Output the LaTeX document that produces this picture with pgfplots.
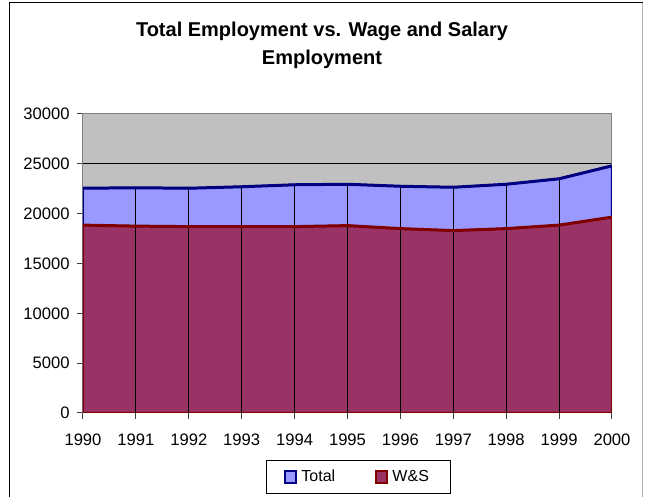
\documentclass[border=0pt]{standalone}
\usepackage{fontspec}
\setmainfont{Liberation Sans}
\usepackage{pgfplots}
\pgfplotsset{compat=1.18}
\usepackage{pgfplotstable}

\definecolor{plotgray}{HTML}{C0C0C0}
\definecolor{totfill}{HTML}{9999FF}
\definecolor{totline}{HTML}{000080}
\definecolor{wsfill}{HTML}{993366}
\definecolor{wsline}{HTML}{800000}

% employment by year
\pgfplotstableread{
year total ws
1990 22550 18850
1991 22600 18750
1992 22550 18700
1993 22700 18700
1994 22900 18700
1995 22950 18800
1996 22750 18500
1997 22650 18300
1998 22950 18500
1999 23500 18850
2000 24800 19650
}\emp

\begin{document}
\begin{tikzpicture}
\begin{axis}[
    scale only axis, width=264.5pt, height=149.5pt,
    xmin=1990, xmax=2000, ymin=0, ymax=30000,
    xtick={1990,1991,...,2000}, ytick={0,5000,...,30000},
    xtick pos=bottom, ytick pos=left,
    tick align=outside, major tick length=3pt,
    tick style={black!75, line width=0.5pt},
    axis line style={draw=black!50, line width=0.5pt},
    axis background/.style={fill=plotgray},
    ymajorgrids, grid style={black, line width=0.5pt},
    scaled ticks=false,
    /pgf/number format/1000 sep={},
    /pgf/number format/assume math mode=true,
    tick label style={font=\fontsize{8.3}{10}\selectfont},
    yticklabel style={inner sep=0pt, anchor=east, xshift=-3.5pt},
    xticklabel style={inner sep=0pt, anchor=north, yshift=-7.5pt},
    legend style={at={(0.521,-0.214)}, anchor=center, legend columns=2,
        draw=black, line width=0.5pt, font=\fontsize{8}{10}\selectfont,
        inner xsep=9pt, inner ysep=2.5pt,
        /tikz/every even column/.append style={column sep=18pt}},
]
\addplot[fill=totfill, draw=totline, line width=1pt,
    legend image code/.code={\draw[fill=totfill, draw=totline, line width=1pt] (0pt,-2.8pt) rectangle (5.6pt,2.8pt);}]
    table[x=year, y=total]{\emp} \closedcycle;
\addlegendentry{Total}
\addplot[fill=wsfill, draw=wsline, line width=1pt,
    legend image code/.code={\draw[fill=wsfill, draw=wsline, line width=1pt] (0pt,-2.8pt) rectangle (5.6pt,2.8pt);}]
    table[x=year, y=ws]{\emp} \closedcycle;
\addlegendentry{W\&S}
\addplot[ycomb, black, line width=0.5pt, restrict x to domain=1991:1999, forget plot]
    table[x=year, y=total]{\emp};
\addplot[totline, line width=1.5pt, forget plot] table[x=year, y=total]{\emp};
\addplot[wsline, line width=1.5pt, forget plot] table[x=year, y=ws]{\emp};
\end{axis}
\node[anchor=base, font=\bfseries\fontsize{10}{12}\selectfont] at (119.5pt,188pt) {Total Employment vs. Wage and Salary};
\node[anchor=base, font=\bfseries\fontsize{10}{12}\selectfont] at (119.5pt,174pt) {Employment};
\draw[black, line width=0.5pt] (-36.5pt,-42pt) -- (-36.5pt,205pt) -- (280pt,205pt);
\draw[black!30, line width=0.5pt] (280pt,205pt) -- (280pt,-42pt);
\pgfresetboundingbox
\path[use as bounding box] (-41.5pt,-42pt) rectangle (281pt,206.5pt);
\end{tikzpicture}
\end{document}
